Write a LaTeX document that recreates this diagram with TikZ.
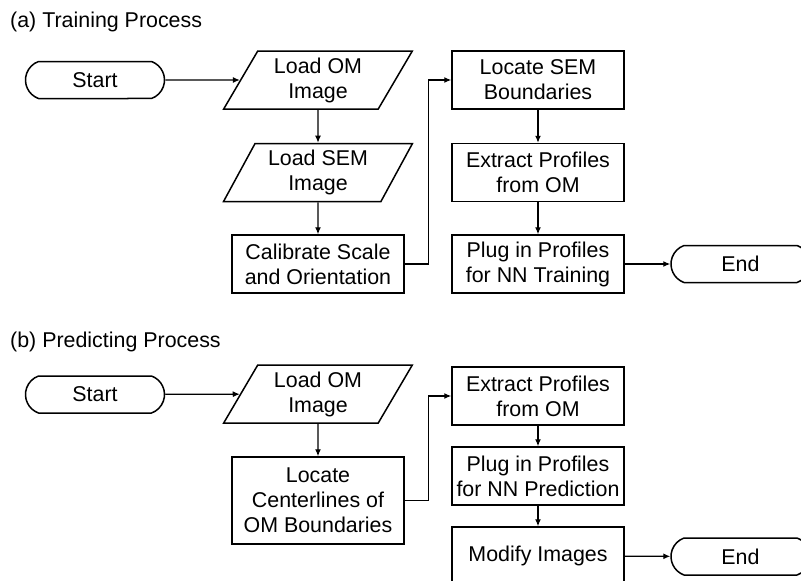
\documentclass[tikz,border=0pt]{standalone}
\usepackage{fontspec}
\setmainfont{Liberation Sans}
\usetikzlibrary{shapes.geometric,shapes.misc,arrows.meta}
\tikzset{
  base/.style={draw, line width=1.5pt, align=center, inner sep=2pt, font=\fontsize{21.4}{25}\selectfont},
  proc/.style={base, rectangle, minimum width=172pt, minimum height=58pt},
  io/.style={base, trapezium, trapezium left angle=62, trapezium right angle=118, trapezium stretches=true, minimum width=189pt, minimum height=58pt},
  term/.style={base, rounded rectangle, rounded rectangle arc length=140, minimum width=143pt, minimum height=37pt},
  flow/.style={-{Latex[length=7pt,width=6pt]}, line width=1.2pt},
  heading/.style={anchor=west, inner sep=0pt, font=\fontsize{21.4}{25}\selectfont}
}
\begin{document}
\begin{tikzpicture}[x=1pt,y=-1pt]
\useasboundingbox (0,0) rectangle (801,581);
\clip (0,0) rectangle (801,581);
% (a) training
\node [heading] (ta) at (10,22) {(a) Training Process};
\node [term] (startA) at (95,80) {Start};
\node [io] (omA) at (318,80) {Load OM\\Image};
\node [io] (semA) at (318,172.5) {Load SEM\\Image};
\node [proc] (calA) at (318,264) {Calibrate Scale\\and Orientation};
\node [proc] (locA) at (538,80) {Locate SEM\\Boundaries};
\node [proc] (extA) at (538,172.5) {Extract Profiles\\from OM};
\node [proc] (plugA) at (538,264) {Plug in Profiles\\for NN Training};
\node [term] (endA) at (740.5,264) {End};
\draw [flow] (startA) -- (omA);
\draw [flow] (omA) -- (semA);
\draw [flow] (semA) -- (calA);
\draw [flow] (calA.east) -- ++(24,0) |- (locA.west);
\draw [flow] (locA) -- (extA);
\draw [flow] (extA) -- (plugA);
\draw [flow] (plugA) -- (endA);
% (b) predicting
\node [heading] (tb) at (10,342) {(b) Predicting Process};
\node [term] (startB) at (95,394.5) {Start};
\node [io] (omB) at (318,394) {Load OM\\Image};
\node [proc, minimum height=87pt] (cenB) at (318,500.5) {Locate\\Centerlines of\\OM Boundaries};
\node [proc] (extB) at (538,396) {Extract Profiles\\from OM};
\node [proc] (plugB) at (538,476) {Plug in Profiles\\for NN Prediction};
\node [proc] (modB) at (538,556) {Modify Images};
\node [term] (endB) at (740.5,556.5) {End};
\draw [flow] (startB) -- (omB);
\draw [flow] (omB) -- (cenB);
\draw [flow] (cenB.east) -- ++(24,0) |- (extB.west);
\draw [flow] (extB) -- (plugB);
\draw [flow] (plugB) -- (modB);
\draw [flow] (modB) -- (endB);
\end{tikzpicture}
\end{document}
